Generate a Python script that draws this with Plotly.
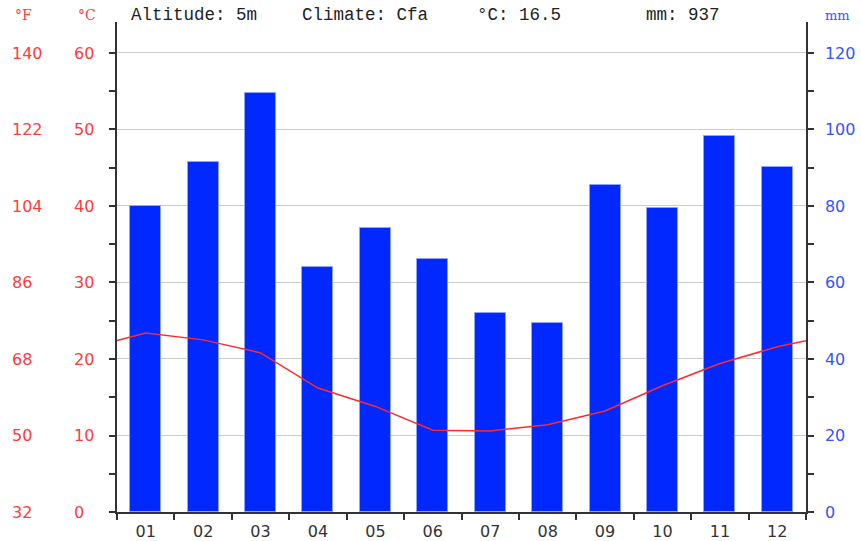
import plotly.graph_objects as go

# ---- data ----
months = ["01", "02", "03", "04", "05", "06", "07", "08", "09", "10", "11", "12"]
month_pos = [1, 2, 3, 4, 5, 6, 7, 8, 9, 10, 11, 12]
precip_mm = [80.0, 91.5, 109.5, 64.1, 74.2, 66.1, 52.0, 49.4, 85.5, 79.5, 98.3, 90.2]
temp_c = [23.4, 22.5, 20.8, 16.2, 13.8, 10.7, 10.6, 11.4, 13.2, 16.5, 19.4, 21.6]
edge_pos = [0.5, 12.5]          # chart edges (year wraps around)
edge_temp_c = [22.4, 22.4]      # value of the line where it meets the edges
c_ticks = [0, 10, 20, 30, 40, 50, 60]
f_ticks = [32, 50, 68, 86, 104, 122, 140]
mm_ticks = [0, 20, 40, 60, 80, 100, 120]
header = ["Altitude: 5m", "Climate: Cfa", "°C: 16.5", "mm: 937"]

# ---- layout constants (pixels) ----
W, H = 861, 541
ML, MR, MT, MB = 5, 55, 22, 29
PW = W - ML - MR
PH = H - MT - MB
X0 = 117  # plot left edge in px


def px(x):
    return (x - ML) / PW


def py(y):
    return (H - MB - y) / PH


c_max = 64.05
mm_max = c_max * 2
f_min, f_max = 32, c_max * 1.8 + 32

RED = "#ff3b3b"
BLUE = "#3355ff"
AX = "#333333"
FONT = "DejaVu Sans"

line_x = [edge_pos[0]] + month_pos + [edge_pos[1]]
line_y = [edge_temp_c[0]] + temp_c + [edge_temp_c[1]]

fig = go.Figure()
fig.add_trace(go.Bar(
    x=month_pos, y=precip_mm, yaxis="y", width=0.54,
    marker=dict(color="#0028ff", line=dict(color="#8ea2ff", width=1)),
    hoverinfo="skip", showlegend=False,
))
fig.add_trace(go.Scatter(
    x=line_x, y=line_y, yaxis="y2", mode="lines",
    line=dict(color="#ff2a2a", width=1.5),
    hoverinfo="skip", showlegend=False,
))
# empty traces so the label-only axes are drawn
for ax in ["y3", "y4"]:
    fig.add_trace(go.Scatter(x=[None], y=[None], yaxis=ax, mode="lines",
                             hoverinfo="skip", showlegend=False))

fig.update_layout(
    width=W, height=H,
    margin=dict(l=ML, r=MR, t=MT, b=MB, pad=0, autoexpand=False),
    paper_bgcolor="white", plot_bgcolor="white",
    showlegend=False,
    bargap=0,
    xaxis=dict(
        domain=[px(X0), 1], range=[0.5, 12.5], automargin=False,
        tickvals=month_pos, ticktext=months, ticks="",
        tickfont=dict(family=FONT, size=16, color=AX),
        showgrid=False, zeroline=False,
        showline=True, linecolor=AX, linewidth=1.5,
        minor=dict(tickvals=[i + 0.5 for i in range(13)], ticks="outside",
                   ticklen=6, tickwidth=1.5, tickcolor=AX, showgrid=False),
        ticklabelstandoff=4,
        fixedrange=True,
    ),
    yaxis=dict(
        side="right", anchor="x", range=[0, mm_max], automargin=False,
        tickvals=mm_ticks, ticks="outside", ticklen=6, tickwidth=1.5, tickcolor=AX,
        tickfont=dict(family=FONT, size=16, color=BLUE),
        showline=True, linecolor=AX, linewidth=1.5,
        showgrid=True, gridcolor="#cccccc", gridwidth=1, zeroline=False,
        minor=dict(dtick=10, ticks="outside", ticklen=6, tickwidth=1.5,
                   tickcolor=AX, showgrid=False),
        ticklabelstandoff=8,
        fixedrange=True,
    ),
    yaxis2=dict(
        overlaying="y", side="left", anchor="x", range=[0, c_max], automargin=False,
        tickvals=c_ticks, showticklabels=False,
        ticks="outside", ticklen=6, tickwidth=1.5, tickcolor=AX,
        showline=True, linecolor=AX, linewidth=1.5,
        showgrid=False, zeroline=False,
        minor=dict(dtick=5, ticks="outside", ticklen=6, tickwidth=1.5,
                   tickcolor=AX, showgrid=False),
        fixedrange=True,
    ),
    yaxis3=dict(  # °C labels, left-aligned
        overlaying="y", side="right", anchor="free", position=px(73),
        range=[0, c_max], tickvals=c_ticks, ticks="", automargin=False,
        tickfont=dict(family=FONT, size=16, color=RED),
        showline=False, showgrid=False, zeroline=False,
        ticklabelstandoff=0, fixedrange=True,
    ),
    yaxis4=dict(  # °F labels, left-aligned
        overlaying="y", side="right", anchor="free", position=px(11),
        range=[f_min, f_max], tickvals=f_ticks, ticks="", automargin=False,
        tickfont=dict(family=FONT, size=16, color=RED),
        showline=False, showgrid=False, zeroline=False,
        ticklabelstandoff=0, fixedrange=True,
    ),
)

ann = []
hx = [129, 300, 475, 644]
for txt, x in zip(header, hx):
    ann.append(dict(text=txt, x=px(x), y=py(15), xref="paper", yref="paper",
                    xanchor="left", yanchor="middle", showarrow=False,
                    font=dict(family="Liberation Mono", size=17.5, color="#222222")))
ann.append(dict(text="°F", x=px(13), y=py(15), xref="paper", yref="paper",
                xanchor="left", yanchor="middle", showarrow=False,
                font=dict(family="DejaVu Serif", size=14, color=RED)))
ann.append(dict(text="°C", x=px(76), y=py(15), xref="paper", yref="paper",
                xanchor="left", yanchor="middle", showarrow=False,
                font=dict(family="DejaVu Serif", size=14, color=RED)))
ann.append(dict(text="mm", x=px(823), y=py(15), xref="paper", yref="paper",
                xanchor="left", yanchor="middle", showarrow=False,
                font=dict(family="DejaVu Serif", size=13, color=BLUE)))
fig.update_layout(annotations=ann)

fig.write_html("out.html", config={"displayModeBar": False},
               post_script="document.body.style.margin='0';document.body.style.padding='0';")
